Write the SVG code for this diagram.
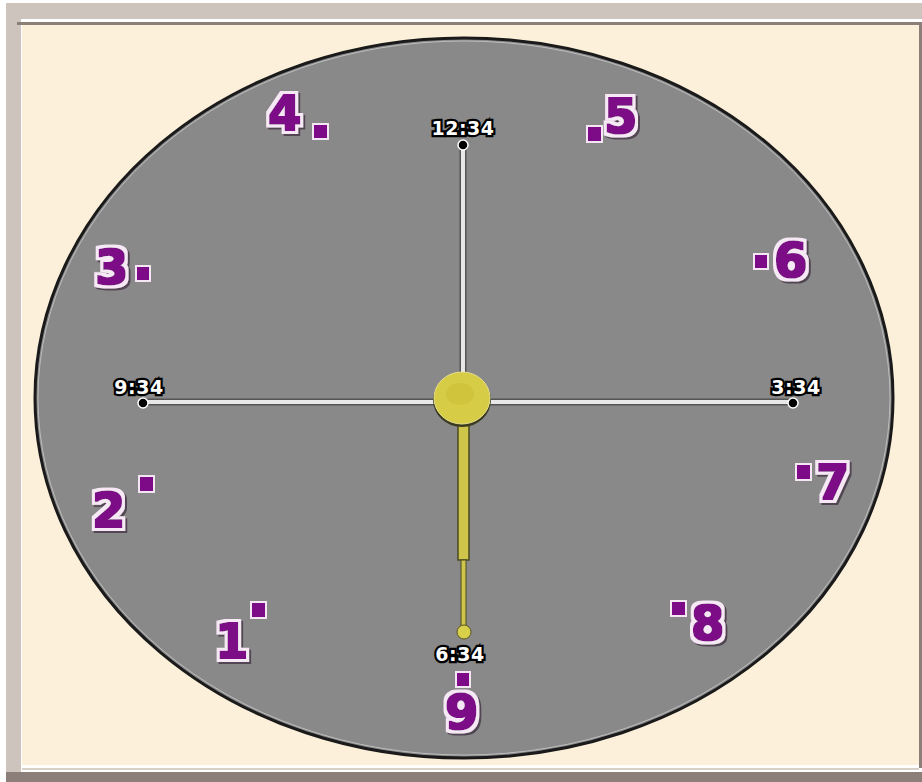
<svg xmlns="http://www.w3.org/2000/svg" width="922" height="782" viewBox="0 0 922 782">
<defs>
<filter id="heavy" x="-20%" y="-20%" width="140%" height="140%">
<feMorphology in="SourceAlpha" operator="dilate" radius="3.5" result="outer"/>
<feOffset in="outer" dx="1.5" dy="2" result="outerShift"/>
<feFlood flood-color="#3a2a3a" flood-opacity="0.7"/>
<feComposite in2="outerShift" operator="in" result="shadow"/>
<feFlood flood-color="#f6e8f4"/>
<feComposite in2="outer" operator="in" result="white"/>
<feMorphology in="SourceGraphic" operator="dilate" radius="1.3" result="thick"/>
<feMerge><feMergeNode in="shadow"/><feMergeNode in="white"/><feMergeNode in="thick"/></feMerge>
</filter>
<style>
.num{font-family:"DejaVu Sans",sans-serif;font-weight:bold;font-size:48px;fill:#7d0a86;filter:url(#heavy);}
.sq{fill:#7d0a86;stroke:#f4e6f2;stroke-width:2;}
.lbl{font-family:"DejaVu Sans",sans-serif;font-weight:bold;font-size:19px;letter-spacing:0.5px;fill:#ffffff;stroke:#000;stroke-width:4.5;paint-order:stroke;text-anchor:middle;}
.dot{fill:#000;stroke:#fff;stroke-width:1.5;}
</style>
</defs>
<rect x="0" y="0" width="922" height="782" fill="#ffffff"/>
<rect x="6" y="3" width="916" height="16" fill="#cdc5bd"/>
<rect x="6" y="3" width="15" height="769" fill="#cdc5bd"/>
<rect x="22" y="25" width="897" height="740" fill="#fcf0da"/>
<rect x="17" y="22" width="905" height="3" fill="#8c7f7a"/>
<rect x="919" y="22" width="3" height="746" fill="#8c7f7a"/>
<rect x="22" y="768" width="897" height="2" fill="#d8cfc7"/>
<rect x="6" y="772" width="916" height="10" fill="#8c7f7a"/>

<g id="face">
<ellipse cx="464" cy="398" rx="429" ry="360" fill="#898989" stroke="#1a1a1a" stroke-width="3"/>
<ellipse cx="464" cy="398" rx="426" ry="357" fill="none" stroke="#bdbdbd" stroke-width="1"/>
</g>

<g id="connectors">
<line x1="463" y1="145" x2="463" y2="398" stroke="#555" stroke-width="7"/>
<line x1="463" y1="145" x2="463" y2="398" stroke="#e8e8e8" stroke-width="4"/>
<line x1="143" y1="402" x2="793" y2="402" stroke="#555" stroke-width="7"/>
<line x1="143" y1="402" x2="793" y2="402" stroke="#e8e8e8" stroke-width="4"/>
</g>

<g id="hand">
<rect x="458" y="420" width="11" height="140" fill="#cfc54a" stroke="#4a4a20" stroke-width="1.5"/>
<rect x="461" y="560" width="5" height="68" fill="#cfc54a" stroke="#4a4a20" stroke-width="1"/>
<circle cx="464" cy="632" r="7" fill="#d8cf4a" stroke="#5a5520" stroke-width="1"/>
</g>

<g id="knob">
<ellipse cx="462" cy="400" rx="29" ry="27" fill="#3a3a20"/>
<ellipse cx="462" cy="398" rx="28" ry="26" fill="#d6cc45" stroke="#e8e090" stroke-width="1"/>
<ellipse cx="460" cy="394" rx="14" ry="11" fill="#cfc43c"/>
</g>

<g id="marker-12"><circle class="dot" cx="463" cy="145" r="5"/><text class="lbl" x="463" y="135">12:34</text></g>
<g id="marker-9"><circle class="dot" cx="143" cy="403" r="5"/><text class="lbl" x="139" y="394">9:34</text></g>
<g id="marker-3"><circle class="dot" cx="793" cy="403" r="5"/><text class="lbl" x="796" y="394">3:34</text></g>
<g id="marker-6"><text class="lbl" x="460" y="661">6:34</text></g>

<g id="n4"><text class="num" x="268" y="130">4</text><rect class="sq" x="313" y="124" width="15" height="15"/></g>
<g id="n5"><text class="num" x="604" y="133">5</text><rect class="sq" x="587" y="126" width="15" height="16"/></g>
<g id="n3"><text class="num" x="95" y="284">3</text><rect class="sq" x="136" y="266" width="14" height="15"/></g>
<g id="n6"><text class="num" x="774" y="277">6</text><rect class="sq" x="754" y="254" width="14" height="15"/></g>
<g id="n2"><text class="num" x="92" y="527">2</text><rect class="sq" x="139" y="476" width="15" height="16"/></g>
<g id="n7"><text class="num" x="816" y="499">7</text><rect class="sq" x="796" y="464" width="15" height="16"/></g>
<g id="n1"><text class="num" x="215" y="658">1</text><rect class="sq" x="251" y="602" width="15" height="16"/></g>
<g id="n8"><text class="num" x="691" y="640">8</text><rect class="sq" x="671" y="601" width="15" height="15"/></g>
<g id="n9"><text class="num" x="445" y="729">9</text><rect class="sq" x="456" y="672" width="14" height="15"/></g>
</svg>
